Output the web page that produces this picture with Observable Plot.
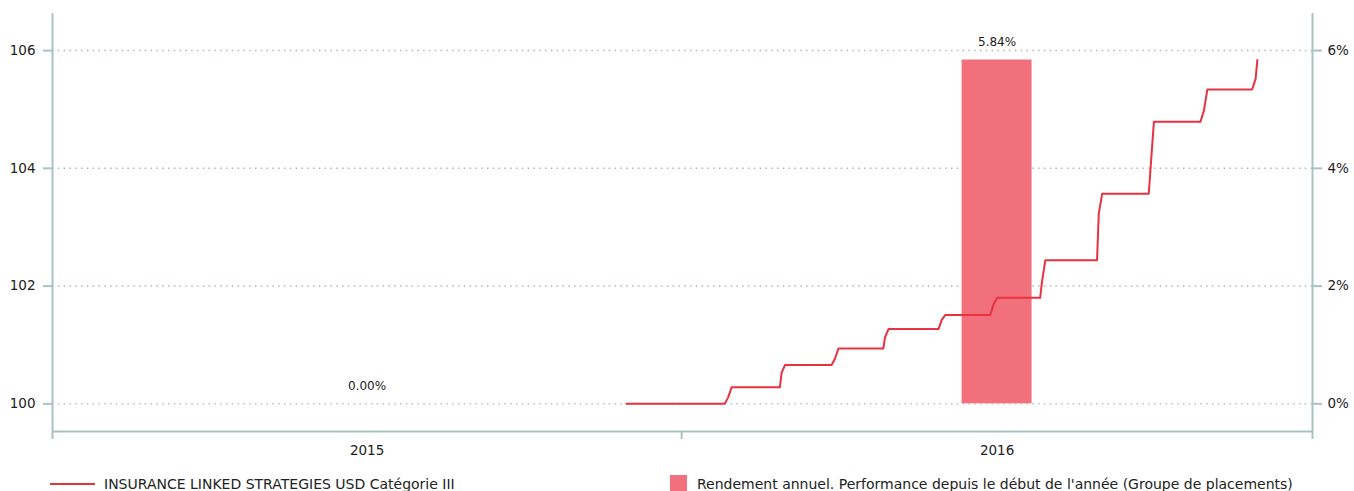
<!DOCTYPE html>
<html>
<head>
<meta charset="utf-8">
<script src="https://cdn.jsdelivr.net/npm/d3@7"></script>
<script src="https://cdn.jsdelivr.net/npm/@observablehq/plot@0.6"></script>
<style>
  html, body { margin: 0; padding: 0; background: #fff; }
  body { font-family: "DejaVu Sans", sans-serif; color: #222; width: 1354px; overflow: hidden; }
  #legend { position: relative; height: 19px; font-size: 14px; }
  #legend .item { position: absolute; top: 3px; height: 17px; display: flex; align-items: center; white-space: nowrap; }
  #legend .swatch-line { width: 45px; height: 2px; background: #e8323f; margin-right: 9px; }
  #legend .swatch-box { width: 17px; height: 17px; background: #f2707b; margin-right: 10px; }
</style>
</head>
<body>
<div id="chart"></div>
<div id="legend"></div>
<script>
// Net asset value of the share class (index, start = 100)
const navDates = [
  "2015-11-30", "2016-01-26", "2016-01-28", "2016-01-30",
  "2016-02-27", "2016-02-28", "2016-03-01",
  "2016-03-28", "2016-03-30", "2016-04-01",
  "2016-04-27", "2016-04-28", "2016-04-30",
  "2016-05-29", "2016-05-31", "2016-06-02",
  "2016-06-28", "2016-06-30", "2016-07-02",
  "2016-07-27", "2016-07-28", "2016-07-30",
  "2016-08-29", "2016-08-30", "2016-09-01",
  "2016-09-28", "2016-09-30", "2016-10-01",
  "2016-10-28", "2016-10-30", "2016-11-01",
  "2016-11-27", "2016-11-29", "2016-11-30"
];
const navValues = [
  100.00, 100.00, 100.11, 100.28,
  100.28, 100.53, 100.66,
  100.66, 100.77, 100.94,
  100.94, 101.13, 101.27,
  101.27, 101.43, 101.51,
  101.51, 101.69, 101.80,
  101.80, 102.06, 102.44,
  102.44, 103.23, 103.57,
  103.57, 104.39, 104.79,
  104.79, 104.98, 105.34,
  105.34, 105.52, 105.84
];

// Annual return (year-to-date performance), in percent
const years = [2015, 2016];
const annualReturns = [0.00, 5.84];

// Axis ticks
const indexTicks = [100, 102, 104, 106];
const percentTickLabels = ["0%", "2%", "4%", "6%"];

const seriesName = "INSURANCE LINKED STRATEGIES USD Catégorie III";
const barName = "Rendement annuel. Performance depuis le début de l'année (Groupe de placements)";

const lineColor = "#e8323f";
const barColor = "#f2707b";
const axisColor = "#a9c3c3";

const parseDate = d3.utcParse("%Y-%m-%d");
const nav = navDates.map((d, i) => ({date: parseDate(d), value: navValues[i]}));

const yearStart = y => new Date(Date.UTC(y, 0, 1));
const yearMid = y => new Date((+yearStart(y) + +yearStart(y + 1)) / 2);
const annual = years.map((y, i) => ({year: y, mid: yearMid(y), pct: annualReturns[i]}));
const halfBar = 20.3 * 864e5; // half bar width, in ms

const yMin = 99.53, yMax = 106.63;

const chart = Plot.plot({
  width: 1354,
  height: 472,
  marginLeft: 52,
  marginRight: 42,
  marginTop: 13,
  marginBottom: 41,
  style: {fontFamily: "DejaVu Sans, sans-serif", fontSize: "13px", color: "#222", background: "#fff"},
  x: {type: "utc", domain: [yearStart(years[0]), yearStart(years[years.length - 1] + 1)]},
  y: {domain: [yMin, yMax]},
  marks: [
    // dotted horizontal grid
    Plot.ruleY(indexTicks, {stroke: d => d === 100 ? "#b9c2c2" : "#a3bdbd", strokeWidth: 1.5, strokeDasharray: "1.5,4.3"}),
    // annual returns, on the percent axis (0% = index 100)
    Plot.rectY(annual, {
      x1: d => new Date(+d.mid - halfBar),
      x2: d => new Date(+d.mid + halfBar),
      y1: 100,
      y2: d => 100 + d.pct,
      fill: barColor
    }),
    Plot.text(annual, {
      x: "mid",
      y: d => 100 + d.pct,
      text: d => d.pct.toFixed(2) + "%",
      dy: -18,
      fontSize: 12,
      fill: "#222"
    }),
    // NAV line
    Plot.line(nav, {x: "date", y: "value", stroke: lineColor, strokeWidth: 2}),
    // axis lines
    Plot.ruleX([yearStart(years[0]), yearStart(years[years.length - 1] + 1)], {stroke: axisColor, strokeWidth: 2}),
    Plot.ruleY([yMin], {stroke: axisColor, strokeWidth: 2}),
    Plot.axisY(indexTicks, {anchor: "left", label: null, tickSize: 9, tickPadding: 8, stroke: axisColor, strokeWidth: 2, tickFormat: d => String(d), fontSize: 13.5}),
    Plot.axisY(indexTicks, {anchor: "right", label: null, tickSize: 9, tickPadding: 6, stroke: axisColor, strokeWidth: 2, tickFormat: d => percentTickLabels[indexTicks.indexOf(d)], fontSize: 13.5}),
    Plot.axisX([...years, years[years.length - 1] + 1].map(yearStart), {label: null, tickSize: 8, stroke: axisColor, strokeWidth: 2, tickFormat: () => ""}),
    Plot.axisX(annual.map(d => d.mid), {label: null, tickSize: 0, tickPadding: 14, tickFormat: d3.utcFormat("%Y"), fontSize: 13.5})
  ]
});
document.getElementById("chart").appendChild(chart);

// legend below the chart
const legend = document.getElementById("legend");
legend.innerHTML = `
  <div class="item" style="left:50px"><span class="swatch-line"></span><span>${seriesName}</span></div>
  <div class="item" style="left:670px"><span class="swatch-box"></span><span>${barName}</span></div>`;
</script>
</body>
</html>
